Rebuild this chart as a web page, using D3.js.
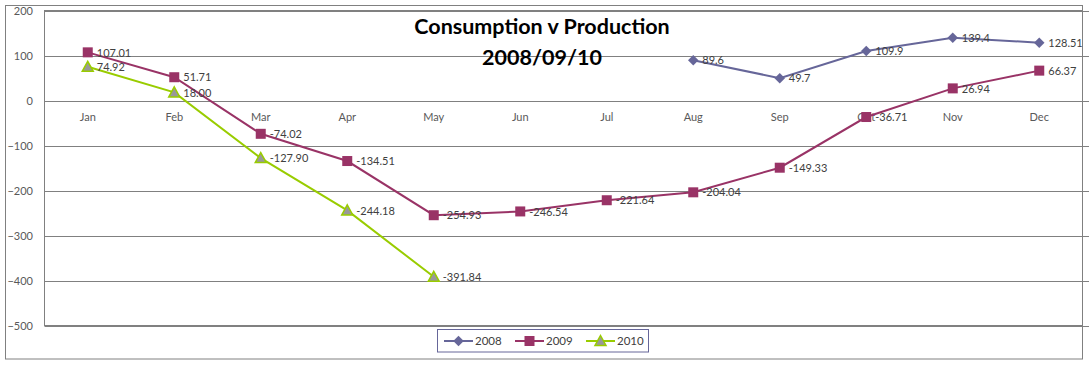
<!DOCTYPE html>
<html><head><meta charset="utf-8">
<script src="https://cdn.jsdelivr.net/npm/d3@7"></script>
<style>
html,body{margin:0;padding:0;background:#fff;}
svg{display:block;}
</style></head>
<body>
<svg id="chart" width="1089" height="365"></svg>
<script>
const months = ["Jan","Feb","Mar","Apr","May","Jun","Jul","Aug","Sep","Oct","Nov","Dec"];
const yTicks = [200,100,0,-100,-200,-300,-400,-500];
const series2008 = [null,null,null,null,null,null,null,89.6,49.7,109.9,139.4,128.51];
const series2009 = [107.01,51.71,-74.02,-134.51,-254.93,-246.54,-221.64,-204.04,-149.33,-36.71,26.94,66.37];
const series2010 = [74.92,18.00,-127.90,-244.18,-391.84,null,null,null,null,null,null,null];
const seriesNames = ["2008","2009","2010"];
const titleLines = ["Consumption v Production","2008/09/10"];

const svg = d3.select("#chart");
const font = "Lato, 'Open Sans', sans-serif";
const L = 44.5, R = 1082.5, T = 10.5, B = 325.5;

// outer border
svg.append("rect").attr("x",5.5).attr("y",5.5).attr("width",1077).attr("height",353.5)
  .attr("fill","#fff").attr("stroke","#808080").attr("stroke-width",1);

const x = d3.scaleBand().domain(months).range([L,R]);
const y = d3.scaleLinear().domain([-500,200]).range([B,T]);

// gridlines
svg.append("g").selectAll("line").data(yTicks).join("line")
  .attr("x1",L).attr("x2",1089).attr("y1",d=>Math.round(y(d))+0.5).attr("y2",d=>Math.round(y(d))+0.5)
  .attr("stroke","#808080").attr("stroke-width",1);
// plot border
svg.append("rect").attr("x",L).attr("y",T).attr("width",R-L).attr("height",B-T)
  .attr("fill","none").attr("stroke","#808080").attr("stroke-width",1);

// y axis labels
const yAxis = d3.axisLeft(y).tickValues(yTicks).tickSize(0).tickPadding(0);
const yg = svg.append("g").attr("transform",`translate(33,0)`).call(yAxis);
yg.select(".domain").remove();
yg.selectAll("text").attr("font-family",font).attr("font-size",11).attr("fill","#595959");

// x labels at zero line
const xAxis = d3.axisBottom(x).tickSize(0).tickPadding(0);
const xg = svg.append("g").attr("transform",`translate(0,${y(0)+17})`).call(xAxis);
xg.select(".domain").remove();
xg.selectAll("text").attr("font-family",font).attr("font-size",11).attr("fill","#595959").attr("dy","0.3em");

const cx = i => x(months[i]) + x.bandwidth()/2;
const colors = ["#666699","#993366","#99CC00"];
const allSeries = [series2008, series2009, series2010];

function marker(g, k, px, py){
  if(k===0){
    g.append("path").attr("d",d3.symbol(d3.symbolDiamond2,70)())
      .attr("transform",`translate(${px},${py})`).attr("fill","#666699");
  } else if(k===1){
    g.append("rect").attr("x",px-5).attr("y",py-5).attr("width",10).attr("height",10).attr("fill","#993366");
  } else {
    g.append("path").attr("d",`M${px},${py-5.5}L${px+5.5},${py+4.5}L${px-5.5},${py+4.5}Z`)
      .attr("fill","#999999").attr("stroke","#99CC00").attr("stroke-width",1.5);
  }
}
const fmt = [v=>String(v), v=>v.toFixed(2), v=>v.toFixed(2)];

allSeries.forEach((s,k)=>{
  const pts = s.map((v,i)=>v==null?null:[cx(i),y(v)]).filter(d=>d);
  svg.append("path").datum(pts).attr("d",d3.line()).attr("fill","none")
    .attr("stroke",colors[k]).attr("stroke-width",2);
});
allSeries.forEach((s,k)=>{
  const g = svg.append("g");
  s.forEach((v,i)=>{ if(v!=null) marker(g,k,cx(i),y(v)); });
});
allSeries.forEach((s,k)=>{
  const g = svg.append("g");
  s.forEach((v,i)=>{
    if(v==null) return;
    g.append("text").attr("x",cx(i)+9).attr("y",y(v)).attr("dy","0.38em")
      .attr("font-family",font).attr("font-size",11).attr("fill","#404040").text(fmt[k](v));
  });
});

// title
svg.append("g").selectAll("text").data(titleLines).join("text")
  .attr("x",542).attr("y",(d,i)=>26+i*31).attr("dy","0.35em").attr("text-anchor","middle")
  .attr("font-family",font).attr("font-weight","bold").attr("font-size",21.5).attr("fill","#000")
  .text(d=>d);

// legend
const lg = svg.append("g");
lg.append("rect").attr("x",437.5).attr("y",329.5).attr("width",211).attr("height",22.5)
  .attr("fill","#fff").attr("stroke","#666699").attr("stroke-width",1);
const legX = [444,515,586];
seriesNames.forEach((n,k)=>{
  const ly = 341;
  lg.append("line").attr("x1",legX[k]).attr("x2",legX[k]+29).attr("y1",ly).attr("y2",ly)
    .attr("stroke",colors[k]).attr("stroke-width",2);
  marker(lg,k,legX[k]+14.5,ly);
  lg.append("text").attr("x",legX[k]+31).attr("y",ly).attr("dy","0.36em")
    .attr("font-family",font).attr("font-size",11.5).attr("fill","#404040").text(n);
});
</script>
</body></html>
